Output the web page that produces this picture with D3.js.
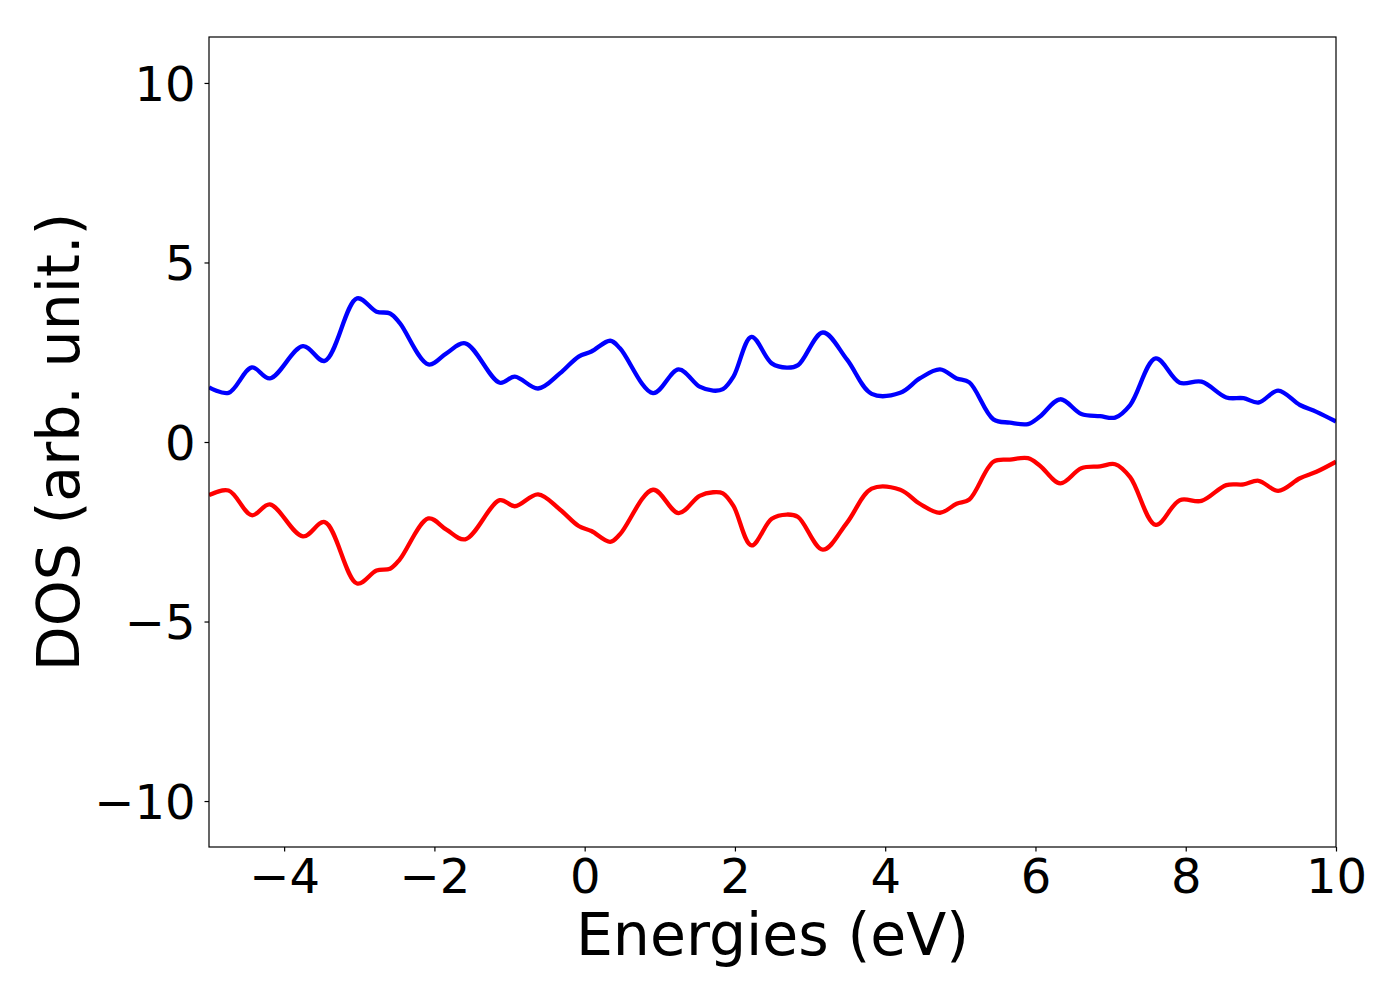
<!DOCTYPE html>
<html>
<head>
<meta charset="utf-8">
<script src="https://cdn.jsdelivr.net/npm/d3@7"></script>
<style>
  body { margin: 0; background: #fff; }
  text { font-family: "DejaVu Sans", sans-serif; fill: #000; }
</style>
</head>
<body>
<svg width="1400" height="1000"></svg>
<script>
var energies = [-5.0, -4.74, -4.43, -4.19, -3.75, -3.46, -3.03, -2.77, -2.59, -2.46,
                -2.08, -1.84, -1.59, -1.13, -0.93, -0.62, -0.33, -0.08, 0.09, 0.34,
                0.47, 0.91, 1.25, 1.53, 1.71, 1.84, 1.98, 2.22, 2.49, 2.69,
                2.84, 3.17, 3.49, 3.82, 4.20, 4.46, 4.73, 4.95, 5.12, 5.44,
                5.66, 5.90, 6.06, 6.33, 6.61, 6.86, 7.06, 7.26, 7.60, 7.92,
                8.21, 8.54, 8.77, 8.97, 9.23, 9.52, 9.74, 10.0];

// spin up DOS
var dosUp = [1.52, 1.37, 2.08, 1.77, 2.67, 2.26, 4.00, 3.63, 3.58, 3.31,
             2.16, 2.47, 2.75, 1.65, 1.82, 1.49, 1.91, 2.38, 2.52, 2.82,
             2.61, 1.36, 2.02, 1.54, 1.43, 1.47, 1.82, 2.93, 2.19, 2.07,
             2.14, 3.05, 2.30, 1.34, 1.37, 1.77, 2.02, 1.77, 1.66, 0.63,
             0.54, 0.50, 0.71, 1.19, 0.78, 0.72, 0.68, 1.03, 2.33, 1.65,
             1.68, 1.24, 1.22, 1.10, 1.43, 1.03, 0.84, 0.57];

// spin down DOS
var dosDown = [-1.48, -1.35, -2.04, -1.74, -2.63, -2.23, -3.94, -3.58, -3.53, -3.27,
               -2.13, -2.44, -2.71, -1.62, -1.79, -1.46, -1.88, -2.34, -2.48, -2.78,
               -2.57, -1.33, -1.98, -1.50, -1.40, -1.43, -1.78, -2.88, -2.14, -2.02,
               -2.09, -3.00, -2.25, -1.30, -1.33, -1.72, -1.97, -1.72, -1.60, -0.55,
               -0.49, -0.45, -0.66, -1.15, -0.73, -0.68, -0.62, -0.98, -2.31, -1.62,
               -1.64, -1.20, -1.18, -1.08, -1.36, -1.01, -0.83, -0.55];

var xTicks = [-4, -2, 0, 2, 4, 6, 8, 10];
var yTicks = [-10, -5, 0, 5, 10];

var svg = d3.select("svg");
var margin = {top: 37, right: 64, bottom: 153, left: 209};
var width = +svg.attr("width") - margin.left - margin.right;
var height = +svg.attr("height") - margin.top - margin.bottom;

var g = svg.append("g")
    .attr("transform", "translate(" + margin.left + "," + margin.top + ")");

var x = d3.scaleLinear()
    .domain([-5, 10])
    .range([0, width]);

var y = d3.scaleLinear()
    .domain([-11.28, 11.28])
    .range([height, 0]);

var minus = function(d) { return (d < 0 ? "\u2212" : "") + Math.abs(d); };

g.append("defs").append("clipPath")
    .attr("id", "clip")
  .append("rect")
    .attr("width", width)
    .attr("height", height);

var line = d3.line()
    .x(function(d, i) { return x(energies[i]); })
    .y(function(d) { return y(d); })
    .curve(d3.curveCatmullRom.alpha(0.5));

g.append("g")
    .attr("clip-path", "url(#clip)")
  .selectAll("path")
  .data([[dosUp, "#0000ff"], [dosDown, "#ff0000"]])
  .enter().append("path")
    .attr("d", function(d) { return line(d[0]); })
    .attr("fill", "none")
    .attr("stroke", function(d) { return d[1]; })
    .attr("stroke-width", 4.3)
    .attr("stroke-linejoin", "round");

// axes
var xAxis = g.append("g")
    .attr("transform", "translate(0," + height + ")")
    .call(d3.axisBottom(x).tickValues(xTicks).tickFormat(minus).tickSize(4.5).tickPadding(7));

var yAxis = g.append("g")
    .call(d3.axisLeft(y).tickValues(yTicks).tickFormat(minus).tickSize(4.5).tickPadding(9));

[xAxis, yAxis].forEach(function(a) {
  a.select(".domain").remove();
  a.selectAll("line").attr("stroke", "#000").attr("stroke-width", 1.2);
  a.selectAll("text")
      .attr("font-size", 48)
      .attr("font-family", "DejaVu Sans")
      .attr("fill", "#000");
});
yAxis.selectAll("text").attr("dy", "0.36em");

// frame
g.append("rect")
    .attr("width", width)
    .attr("height", height)
    .attr("fill", "none")
    .attr("stroke", "#000")
    .attr("stroke-width", 1.2);

// labels
svg.append("text")
    .attr("x", margin.left + width / 2)
    .attr("y", 955)
    .attr("text-anchor", "middle")
    .attr("font-size", 58.5)
    .text("Energies (eV)");

svg.append("text")
    .attr("transform", "translate(79," + (margin.top + height / 2) + ") rotate(-90)")
    .attr("text-anchor", "middle")
    .attr("font-size", 58.5)
    .text("DOS (arb. unit.)");
</script>
</body>
</html>
